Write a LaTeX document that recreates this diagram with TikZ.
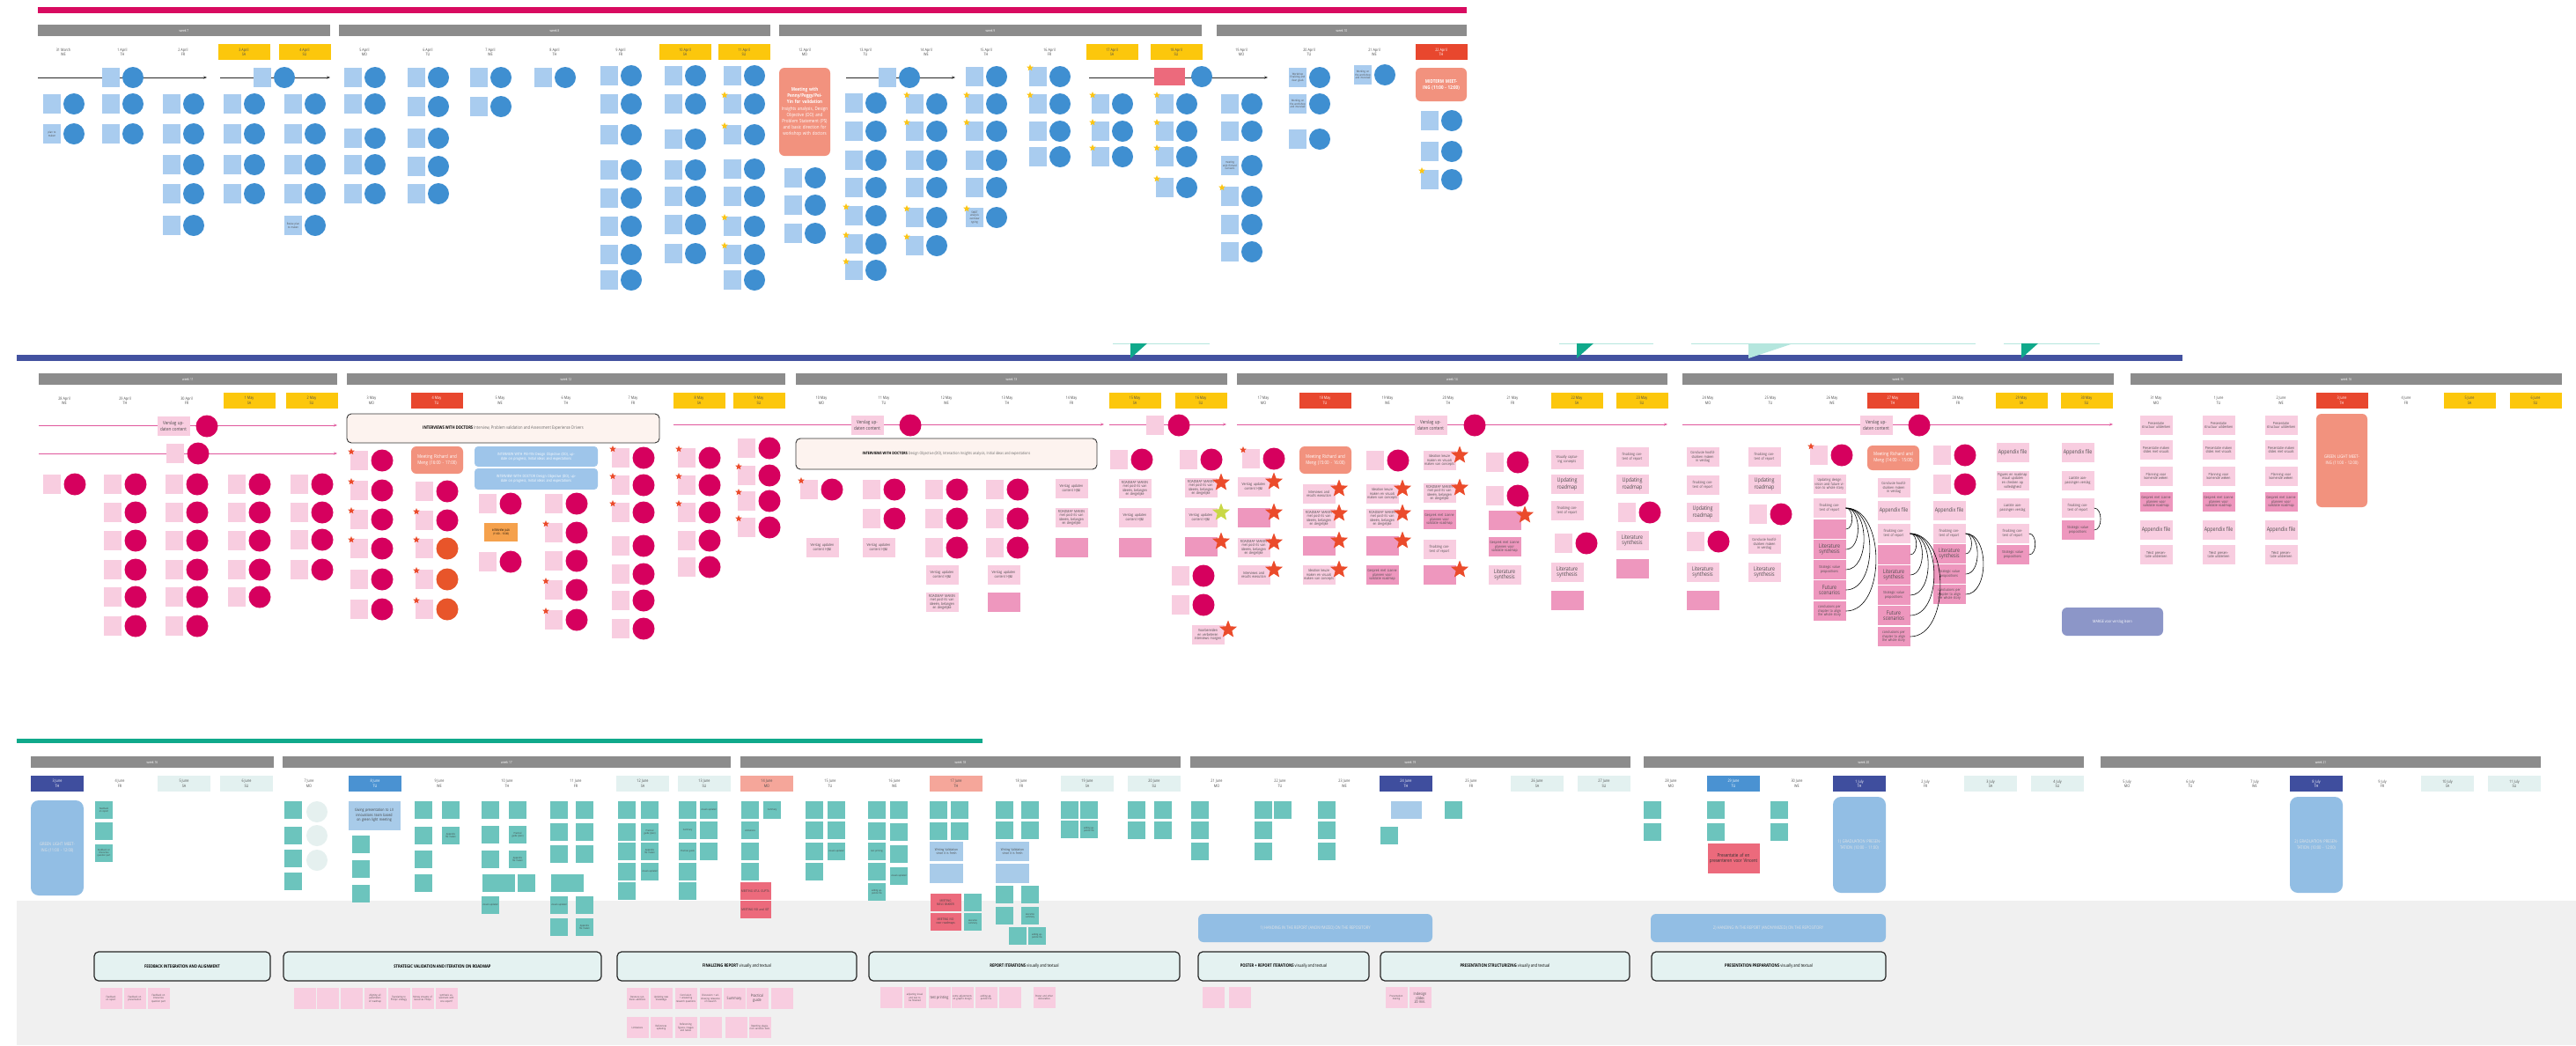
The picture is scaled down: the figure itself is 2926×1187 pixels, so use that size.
\documentclass[tikz,border=0pt]{standalone}
\usepackage{fontspec}
\setmainfont{Open Sans}[FakeStretch=0.82]
\usepackage{tikz}
\usetikzlibrary{
  arrows.meta,
  positioning,
  shapes.geometric,
  calc
}
\definecolor{barmag}   {HTML}{D80B60}
\definecolor{barblue}  {HTML}{4352A0}
\definecolor{barteal}  {HTML}{10A98B}
\definecolor{flaglite} {HTML}{B5E6DE}
\definecolor{wkgray}   {HTML}{8C8C8C}
\definecolor{wkyel}    {HTML}{FCC70C}
\definecolor{wkred}    {HTML}{E8472E}
\definecolor{daydark}  {HTML}{3F4E9E}
\definecolor{dayblue}  {HTML}{4A92D2}
\definecolor{daysal}   {HTML}{F5A69A}
\definecolor{daylite}  {HTML}{E3F1F0}
\definecolor{noteblue} {HTML}{A9CCEF}
\definecolor{dotblue}  {HTML}{3F8FD1}
\definecolor{salmon}   {HTML}{F2927E}
\definecolor{notered}  {HTML}{EC6A7C}
\definecolor{notepink} {HTML}{F8CDE0}
\definecolor{notedark} {HTML}{EE97BE}
\definecolor{dotmag}   {HTML}{D6005E}
\definecolor{dotorg}   {HTML}{E8552A}
\definecolor{starorg}  {HTML}{EB4B2B}
\definecolor{staryel}  {HTML}{FCC514}
\definecolor{starlime} {HTML}{C9D846}
\definecolor{linepink} {HTML}{E0579C}
\definecolor{boxpeach} {HTML}{FDF3EF}
\definecolor{boxblue}  {HTML}{9EC5EA}
\definecolor{boxorange}{HTML}{F5A14C}
\definecolor{marge}    {HTML}{8C96C8}
\definecolor{bandgray} {HTML}{F0F0F0}
\definecolor{noteteal} {HTML}{6CC4BD}
\definecolor{gradblue} {HTML}{92BEE4}
\definecolor{phasefill}{HTML}{E4F2F1}
\definecolor{ringlite} {HTML}{E5F0EF}
\newcommand{\bigtxt}{\fontsize{6.5}{7}\selectfont}

\begin{document}
\begin{tikzpicture}[x=1pt, y=-1pt,
  every node/.style={inner sep=0.5pt, font=\fontsize{3.2}{3.6}\selectfont},
  wkbar/.style={fill=wkgray, text=white, minimum height=13pt, inner sep=0pt,
                font=\fontsize{4}{4}\selectfont},
  day/.style={minimum width=59pt, minimum height=18pt, align=center, inner sep=0pt,
              font=\fontsize{4.6}{5.4}\selectfont},
  bnote/.style={fill=noteblue, minimum width=20pt, minimum height=22pt,
                text width=18pt, align=center, inner sep=1pt, text=black!70},
  bdot/.style={circle, fill=dotblue, minimum size=24pt, inner sep=0pt},
  pnote/.style={fill=notepink, minimum width=20pt, minimum height=22pt, inner sep=0pt},
  pbig/.style={fill=notepink, minimum width=37pt, minimum height=22pt, text width=34pt,
               align=center, inner sep=1pt, text=black!70, font=\fontsize{4.2}{4.6}\selectfont},
  pdot/.style={circle, fill=dotmag, minimum size=25pt, inner sep=0pt},
  tnote/.style={fill=noteteal, minimum width=20pt, minimum height=20pt, text width=19pt,
                align=center, inner sep=0.5pt, text=black!75, font=\fontsize{2.8}{3.1}\selectfont},
  fnote/.style={fill=notepink, minimum width=25pt, minimum height=24pt, text width=23pt,
                align=center, inner sep=1pt, text=black!70, font=\fontsize{3}{3.4}\selectfont},
  ystar/.style={star, star points=5, star point ratio=2.3, fill=staryel, minimum size=8pt, inner sep=0pt},
  bstar/.style={ystar, fill=starorg, minimum size=21pt},
  meet/.style={fill=salmon, rounded corners=6pt, text=white, align=center,
               font=\fontsize{5.5}{7}\selectfont},
  phase/.style={draw=black!85, line width=1.2pt, rounded corners=5pt, fill=phasefill,
                minimum height=33pt, font=\fontsize{5}{6}\selectfont},
  bigblue/.style={fill=gradblue, rounded corners=9pt, text=white!90!black, align=center,
                  font=\fontsize{5}{7}\selectfont},
  tline/.style={-{Stealth[length=4pt]}, black!85, line width=0.8pt},
  pline/.style={-{Stealth[length=4pt]}, linepink, line width=1pt},
  link/.style={black, line width=0.6pt},
]
\path[use as bounding box, fill=white] (0,0) rectangle (2926,1187);

% ---------------- block 1: weeks 7-10 ----------------
\fill[barmag] (43,8) rectangle (1666,15);
\foreach \a/\b/\n [count=\i] in {43/375/7, 385/875/8, 885/1365/9, 1382/1666/10}
  \node[wkbar, minimum width={(\b-\a)*1pt}] (wka\i) at ({(\a+\b)/2},34.5) {week \n};
\foreach \c/\dat/\wdy/\f/\t [count=\i] in {
  72/31 March/WE/none/black!70, 139/1 April/TH/none/black!70, 208/2 April/FR/none/black!70,
  277/3 April/SA/wkyel/black!70, 346/4 April/SU/wkyel/black!70,
  414/5 April/MO/none/black!70, 486/6 April/TU/none/black!70, 557/7 April/WE/none/black!70,
  630/8 April/TH/none/black!70, 705/9 April/FR/none/black!70,
  778/10 April/SA/wkyel/black!70, 845/11 April/SU/wkyel/black!70,
  914/12 April/MO/none/black!70, 983/13 April/TU/none/black!70, 1052/14 April/WE/none/black!70,
  1120/15 April/TH/none/black!70, 1192/16 April/FR/none/black!70,
  1263/17 April/SA/wkyel/black!70, 1336/18 April/SU/wkyel/black!70,
  1410/19 April/MO/none/black!70, 1487/20 April/TU/none/black!70, 1561/21 April/WE/none/black!70,
  1637/22 April/TH/wkred/white}
  \node[day, fill=\f, text=\t] (da\i) at (\c,59) {\dat\\\wdy};

% timelines
\coordinate (ta1) at (43,88);   \coordinate (tb1) at (235,88);
\coordinate (ta2) at (250,88);  \coordinate (tb2) at (375,88);
\coordinate (ta3) at (961,88);  \coordinate (tb3) at (1085,88);
\coordinate (ta4) at (1237,88); \coordinate (tb4) at (1440,88);
\foreach \i in {1,...,4} \draw[tline] (ta\i) -- (tb\i);

% notes and their dots
\foreach \dc/\yy/\tx [count=\i] in {
  72/118/{}, 72/152/{plan to maken},
  139/88/{}, 139/118/{}, 139/152/{},
  208/118/{}, 208/152/{}, 208/187/{}, 208/220/{}, 208/256/{},
  277/118/{}, 277/152/{}, 277/187/{}, 277/220/{},
  311/88/{},
  346/118/{}, 346/152/{}, 346/187/{}, 346/220/{}, 346/256/{Revise plan to maken},
  414/88/{}, 414/118/{}, 414/157/{}, 414/187/{}, 414/220/{},
  486/88/{}, 486/121/{}, 486/157/{}, 486/189/{}, 486/220/{},
  557/88/{}, 557/121/{}, 630/88/{},
  705/86/{}, 705/118/{}, 705/153/{}, 705/193/{}, 705/225/{}, 705/257/{}, 705/289/{}, 705/318/{},
  778/86/{}, 778/118/{}, 778/158/{}, 778/193/{}, 778/223/{}, 778/255/{}, 778/288/{},
  845/86/{}, 845/118/{}, 845/153/{}, 845/192/{}, 845/223/{}, 845/257/{}, 845/289/{}, 845/318/{},
  914/202/{}, 914/233/{}, 914/265/{},
  1021/88/{},
  983/117/{}, 983/149/{}, 983/182/{}, 983/213/{}, 983/245/{}, 983/277/{}, 983/307/{},
  1052/118/{}, 1052/149/{}, 1052/182/{}, 1052/213/{}, 1052/247/{}, 1052/279/{},
  1120/87/{}, 1120/118/{}, 1120/149/{}, 1120/182/{}, 1120/213/{}, 1120/247/{SWOT analysis overview typing},
  1192/87/{}, 1192/118/{}, 1192/149/{}, 1192/178/{},
  1263/118/{}, 1263/149/{}, 1263/178/{},
  1336/118/{}, 1336/149/{}, 1336/178/{}, 1336/213/{},
  1410/118/{}, 1410/149/{}, 1410/188/{meeting with Richard Gonsens}, 1410/223/{}, 1410/255/{}, 1410/286/{},
  1487/88/{Workshop finalizing and clear goals}, 1487/118/{Working on the workshop and interview}, 1487/158/{},
  1561/85/{Working on the workshop and interview},
  1637/137/{}, 1637/172/{}, 1637/204/{}}
{
  \node[bnote] (tn\i) at (\dc-13,\yy) {\tx};
  \node[bdot]  (td\i) at (\dc+12,\yy) {};
}
\node[bnote, fill=notered, minimum width=35pt, text width=33pt, minimum height=20pt] (tred) at (1328,87) {};
\node[bdot] (tredd) at (1365,87) {};

\foreach \dc/\yy [count=\i] in {845/118, 845/153, 845/257, 845/289, 983/245, 983/277, 983/307,
  1052/118, 1052/149, 1052/247, 1052/279, 1120/118, 1120/149, 1120/247, 1192/87, 1192/118,
  1263/118, 1263/149, 1263/178, 1336/118, 1336/149, 1336/178, 1336/213, 1410/223, 1637/204}
  \node[ystar] (ys\i) at (\dc-22,\yy-10) {};

\node[meet, minimum width=58pt, minimum height=100pt, text width=54pt] (meetA) at (914,127)
  {\bfseries Meeting with Penny/Peggy/Pei-Yin for validation\\[1pt]
   \mdseries Insights analysis, Design Objective (DO) and Problem Statement (PS) and basic direction for workshop with doctors};
\node[meet, minimum width=58pt, minimum height=38pt, text width=54pt] (midterm) at (1637,96)
  {\bfseries MIDTERM MEETING (11:00 - 12:00)};

% ---------------- block 2: weeks 11-16 ----------------
\fill[barblue] (19,403) rectangle (2479,410);
\foreach \a/\b/\f in {1264/1374/barteal, 1771/1878/barteal, 2276/2385/barteal} {
  \draw[flaglite, line width=0.8pt] (\a,390) -- (\b,390);
  \fill[\f] (\a+20,390) -- (\a+39,390) -- (\a+20,407) -- cycle;
}
\draw[flaglite, line width=0.8pt] (1921,390) -- (2244,390);
\fill[flaglite] (1986,390) -- (2037,390) -- (1986,407) -- cycle;

\foreach \a/\b/\n [count=\i] in {44/383/11, 394/892/12, 904/1394/13, 1405/1894/14, 1911/2401/15, 2420/2910/16}
  \node[wkbar, minimum width={(\b-\a)*1pt}] (wkb\i) at ({(\a+\b)/2},430.5) {week \n};
\foreach \c/\dat/\wdy/\f/\t [count=\i] in {
  73/28 April/WE/none/black!70, 142/29 April/TH/none/black!70, 212/30 April/FR/none/black!70,
  283/1 May/SA/wkyel/black!70, 354/2 May/SU/wkyel/black!70,
  422/3 May/MO/none/black!70, 496/4 May/TU/wkred/white, 568/5 May/WE/none/black!70,
  643/6 May/TH/none/black!70, 719/7 May/FR/none/black!70,
  794/8 May/SA/wkyel/black!70, 862/9 May/SU/wkyel/black!70,
  933/10 May/MO/none/black!70, 1004/11 May/TU/none/black!70, 1075/12 May/WE/none/black!70,
  1144/13 May/TH/none/black!70, 1217/14 May/FR/none/black!70,
  1289/15 May/SA/wkyel/black!70, 1364/16 May/SU/wkyel/black!70,
  1435/17 May/MO/none/black!70, 1505/18 May/TU/wkred/white, 1576/19 May/WE/none/black!70,
  1645/20 May/TH/none/black!70, 1718/21 May/FR/none/black!70,
  1791/22 May/SA/wkyel/black!70, 1865/23 May/SU/wkyel/black!70,
  1940/24 May/MO/none/black!70, 2011/25 May/TU/none/black!70, 2081/26 May/WE/none/black!70,
  2150/27 May/TH/wkred/white, 2224/28 May/FR/none/black!70,
  2296/29 May/SA/wkyel/black!70, 2370/30 May/SU/wkyel/black!70,
  2449/31 May/MO/none/black!70, 2520/1 June/TU/none/black!70, 2591/2 June/WE/none/black!70,
  2660/3 June/TH/wkred/white, 2733/4 June/FR/none/black!70,
  2805/5 June/SA/wkyel/black!70, 2880/6 June/SU/wkyel/black!70}
  \node[day, fill=\f, text=\t] (db\i) at (\c,455) {\dat\\\wdy};

% report lines
\coordinate (pa1) at (44,483);   \coordinate (pb1) at (383,483);
\coordinate (pa2) at (44,515);   \coordinate (pb2) at (383,515);
\coordinate (pa3) at (765,482);  \coordinate (pb3) at (1254,482);
\coordinate (pa4) at (1260,482); \coordinate (pb4) at (1393,482);
\coordinate (pa5) at (1405,482); \coordinate (pb5) at (1894,482);
\coordinate (pa6) at (1911,482); \coordinate (pb6) at (2400,482);
\foreach \i in {1,...,6} \draw[pline] (pa\i) -- (pb\i);

\node[pbig] (vu1) at (197,484) {\fontsize{5.5}{6}\selectfont Verslag updaten content};
\node[pdot] (vd1) at (235,484) {};
\node[pnote] (vu2) at (199,515) {};
\node[pdot] (vd2) at (225,515) {};
\node[pbig] (vu3) at (985,483) {\fontsize{5.5}{6}\selectfont Verslag updaten content};
\node[pdot] (vd3) at (1034,483) {};
\node[pnote] (vu4) at (1312,483) {};
\node[pdot] (vd4) at (1339,483) {};
\node[pbig] (vu5) at (1625,483) {\fontsize{5.5}{6}\selectfont Verslag updaten content};
\node[pdot] (vd5) at (1675,483) {};
\node[pbig] (vu6) at (2131,483) {\fontsize{5.5}{6}\selectfont Verslag updaten content};
\node[pdot] (vd6) at (2180,483) {};

% large boxes
\node[draw=black!80, line width=0.9pt, rounded corners=5pt, fill=boxpeach,
      minimum width=355pt, minimum height=33pt, font=\fontsize{5}{6}\selectfont] (intA) at (571.5,486.5)
  {\textbf{INTERVIEWS WITH DOCTORS} \textcolor{black!60}{Interview, Problem validation and Assessment Experience Drivers}};
\node[draw=black!80, line width=0.9pt, rounded corners=5pt, fill=boxpeach,
      minimum width=342pt, minimum height=35pt, font=\fontsize{4.5}{6}\selectfont] (intB) at (1075,515.5)
  {\textbf{INTERVIEWS WITH DOCTORS} \textcolor{black!60}{Design Objective (DO), Interaction Insights analysis, Initial ideas and expectations}};
\node[meet, minimum width=59pt, minimum height=31pt, text width=55pt] (meetB) at (496.5,522.5)
  {Meeting Richard and Meng (16:00 - 17:00)};
\node[meet, minimum width=59pt, minimum height=31pt, text width=55pt] (meetC) at (1505.5,522.5)
  {Meeting Richard and Meng (15:00 - 16:00)};
\node[meet, minimum width=59pt, minimum height=28pt, text width=55pt] (meetD) at (2150.5,520)
  {Meeting Richard and Meng (14:00 - 15:00)};
\node[fill=boxblue, rounded corners=4pt, minimum width=140pt, minimum height=23pt, text width=136pt,
      align=center, text=white, font=\fontsize{4.3}{5.2}\selectfont] (peiyin) at (609,518.5)
  {INTERVIEW WITH PEI-YIN Design Objective (DO), update on progress, Initial ideas and expectations};
\node[fill=boxblue, rounded corners=4pt, minimum width=140pt, minimum height=24pt, text width=136pt,
      align=center, text=white, font=\fontsize{4.3}{5.2}\selectfont] (doctor) at (609,544)
  {INTERVIEW WITH DOCTOR Design Objective (DO), update on progress, Initial ideas and expectations};
\node[fill=boxorange, minimum width=38pt, minimum height=21pt, text width=36pt, align=center,
      font=\fontsize{3.2}{3.8}\selectfont] (jack) at (569,604.5) {INTERVIEW JACK (11:00 - 13:00)};
\node[fill=marge, rounded corners=6pt, minimum width=115pt, minimum height=32pt, text=white,
      font=\fontsize{4.5}{5}\selectfont] (marge) at (2399.5,706) {MARGE voor verslag lezen};
\node[meet, minimum width=58pt, minimum height=106pt, text width=54pt, font=\fontsize{5}{7}\selectfont]
  (greenA) at (2660,523) {GREEN LIGHT MEETING (11:00 - 12:00)};

% small notes with dots
\foreach \dc/\yy/\k [count=\i] in {
  73/550/dotmag,
  142/550/dotmag, 142/582/dotmag, 142/614/dotmag, 142/647/dotmag, 142/678/dotmag, 142/711/dotmag,
  212/550/dotmag, 212/582/dotmag, 212/614/dotmag, 212/647/dotmag, 212/678/dotmag, 212/711/dotmag,
  283/550/dotmag, 283/582/dotmag, 283/614/dotmag, 283/647/dotmag, 283/678/dotmag,
  354/550/dotmag, 354/582/dotmag, 354/613/dotmag, 354/647/dotmag,
  422/523/dotmag, 422/557/dotmag, 422/590/dotmag, 422/623/dotmag, 422/658/dotmag, 422/692/dotmag,
  496/558/dotmag, 496/591/dotmag, 496/623/dotorg, 496/658/dotorg, 496/692/dotorg,
  568/572/dotmag, 568/638/dotmag,
  643/572/dotmag, 643/605/dotmag, 643/637/dotmag, 643/670/dotmag, 643/704/dotmag,
  719/520/dotmag, 719/551/dotmag, 719/582/dotmag, 719/620/dotmag, 719/652/dotmag, 719/682/dotmag, 719/714/dotmag,
  794/520/dotmag, 794/551/dotmag, 794/582/dotmag, 794/614/dotmag, 794/644/dotmag,
  862/509/dotmag, 862/540/dotmag, 862/569/dotmag, 862/599/dotmag,
  933/556/dotmag, 1004/556/dotmag, 1004/589/dotmag,
  1075/556/dotmag, 1075/589/dotmag, 1075/622/dotmag,
  1144/556/dotmag, 1144/589/dotmag, 1144/622/dotmag,
  1285/522/dotmag, 1364/522/dotmag, 1355/654/dotmag, 1355/687/dotmag,
  1435/521/dotmag, 1576/523/dotmag, 1712/525/dotmag, 1712/563/dotmag,
  1790/617/dotmag, 1862/582/dotmag, 1940/615/dotmag, 2011/584/dotmag,
  2080/517/dotmag, 2220/517/dotmag, 2220/550/dotmag}
{
  \node[pnote] (mn\i) at (\dc-14,\yy) {};
  \node[pdot, fill=\k] (md\i) at (\dc+12,\yy) {};
}
\foreach \dc/\yy [count=\i] in {422/523, 422/557, 422/590, 422/623, 496/591, 496/623, 496/658, 496/692,
  643/605, 643/670, 643/704, 719/520, 719/551, 719/582, 794/520, 794/551, 794/582,
  862/540, 862/569, 862/599, 933/556, 1435/521, 2080/517}
  \node[ystar, fill=starorg] (os\i) at (\dc-23,\yy-10) {};

% larger notes
\foreach \xx/\yy/\f/\tx [count=\i] in {
  934/622/notepink/{Verslag updaten content HJ\&I}, 998/622/notepink/{Verslag updaten content HJ\&I},
  1070/653/notepink/{Verslag updaten content HJ\&I}, 1070/684/notepink/{ROADMAP MAKEN met post-its van ideeën, belangen en dergelijke},
  1140/653/notepink/{Verslag updaten content HJ\&I}, 1140/684/notedark/{},
  1217/555/notepink/{Verslag updaten content HJ\&I}, 1217/588/notepink/{ROADMAP MAKEN met post-its van ideeën, belangen en dergelijke}, 1217/622/notedark/{},
  1289/555/notepink/{ROADMAP MAKEN met post-its van ideeën, belangen en dergelijke}, 1289/588/notepink/{Verslag updaten content HJ\&I}, 1289/622/notedark/{},
  1364/554/notepink/{ROADMAP MAKEN met post-its van ideeën, belangen en dergelijke}, 1364/588/notepink/{Verslag updaten content HJ\&I},
  1364/621/notedark/{}, 1372/721/notepink/{Voorbereiden en verbeteren interviews morgen},
  1424/553/notepink/{Verslag updaten content HJ\&I}, 1424/588/notedark/{},
  1424/622/notepink/{ROADMAP MAKEN met post-its van ideeën, belangen en dergelijke}, 1424/653/notepink/{Interviews and results execution},
  1498/561/notepink/{Interviews and results execution}, 1498/589/notepink/{ROADMAP MAKEN met post-its van ideeën, belangen en dergelijke},
  1498/620/notedark/{}, 1498/653/notepink/{Ideation keuze maken en visuals maken van concepts},
  1570/561/notepink/{Ideation keuze maken en visuals maken van concepts}, 1570/589/notepink/{ROADMAP MAKEN met post-its van ideeën, belangen en dergelijke},
  1570/620/notedark/{}, 1570/653/notedark/{Gesprek met Lianne plannen voor validatie roadmap},
  1635/523/notepink/{Ideation keuze maken en visuals maken van concepts}, 1635/560/notepink/{ROADMAP MAKEN met post-its van ideeën, belangen en dergelijke},
  1635/590/notedark/{Gesprek met Lianne plannen voor validatie roadmap}, 1635/624/notepink/{finalizing content of report}, 1635/653/notedark/{},
  1709/591/notedark/{}, 1709/621/notedark/{Gesprek met Lianne plannen voor validatie roadmap}, 1709/653/notepink/{\bigtxt Literature synthesis},
  1780/522/notepink/{Visually capturing concepts}, 1780/550/notepink/{\bigtxt Updating roadmap},
  1780/580/notepink/{finalizing content of report}, 1780/650/notepink/{\bigtxt Literature synthesis}, 1780/682/notedark/{},
  1854/519/notepink/{finalizing content of report}, 1854/550/notepink/{\bigtxt Updating roadmap},
  1854/614/notepink/{\bigtxt Literature synthesis}, 1854/646/notedark/{},
  1934/519/notepink/{Conclusie hoofdstukken maken in verslag}, 1934/551/notepink/{finalizing content of report},
  1934/582/notepink/{\bigtxt Updating roadmap}, 1934/650/notepink/{\bigtxt Literature synthesis}, 1934/682/notedark/{},
  2004/519/notepink/{finalizing content of report}, 2004/550/notepink/{\bigtxt Updating roadmap},
  2004/618/notepink/{Conclusie hoofdstukken maken in verslag}, 2004/650/notepink/{\bigtxt Literature synthesis},
  2078/550/notepink/{Updating design vision and future vision to whole story},
  2151/554/notepink/{Conclusie hoofdstukken maken in verslag}, 2151/580/notepink/{\bigtxt Appendix file},
  2214/580/notepink/{\bigtxt Appendix file},
  2286/514/notepink/{\bigtxt Appendix file}, 2286/546/notepink/{Figures en roadmap visual updaten en checken op volledigheid},
  2286/577/notepink/{Laatste aanpassingen verslag},
  2360/514/notepink/{\bigtxt Appendix file}, 2360/546/notepink/{Laatste aanpassingen verslag}}
  \node[pbig, fill=\f] (mb\i) at (\xx,\yy) {\tx};

\foreach \xx in {2449,2520,2591} {
  \node[pbig] (ps\xx) at (\xx,483) {Presentatie structuur uitdenken};
  \node[pbig] (pm\xx) at (\xx,511) {Presentatie maken slides met visuals};
  \node[pbig] (pp\xx) at (\xx,541) {Planning voor komende weken};
  \node[pbig, fill=notedark] (pg\xx) at (\xx,570) {Gesprek met Lianne plannen voor validatie roadmap};
  \node[pbig] (pa\xx) at (\xx,602) {\bigtxt Appendix file};
  \node[pbig] (pt\xx) at (\xx,630) {Tekst presentatie uitdenken};
}

% stacks linked to the report
\node[pbig] (fin26) at (2078,577) {finalizing content of report};
\node[pbig, fill=notedark] (k26a) at (2078,601) {};
\node[pbig, fill=notedark] (k26b) at (2078,624) {\bigtxt Literature synthesis};
\node[pbig, fill=notedark] (k26c) at (2078,647) {Strategic value propositions};
\node[pbig, fill=notedark] (k26d) at (2078,670) {\bigtxt Future scenarios};
\node[pbig, fill=notedark] (k26e) at (2078,694) {conclusions per chapter to align the whole story};
\node[pbig] (fin27) at (2151,606) {finalizing content of report};
\node[pbig, fill=notedark] (k27a) at (2151,630) {};
\node[pbig, fill=notedark] (k27b) at (2151,653) {\bigtxt Literature synthesis};
\node[pbig, fill=notedark] (k27c) at (2151,676) {Strategic value propositions};
\node[pbig, fill=notedark] (k27d) at (2151,699) {\bigtxt Future scenarios};
\node[pbig, fill=notedark] (k27e) at (2151,723) {conclusions per chapter to align the whole story};
\node[pbig] (fin28) at (2214,606) {finalizing content of report};
\node[pbig, fill=notedark] (k28a) at (2214,629) {\bigtxt Literature synthesis};
\node[pbig, fill=notedark] (k28b) at (2214,652) {Strategic value propositions};
\node[pbig, fill=notedark] (k28c) at (2214,675) {conclusions per chapter to align the whole story};
\node[pbig] (fin29) at (2286,606) {finalizing content of report};
\node[pbig, fill=notedark] (k29a) at (2286,630) {Strategic value propositions};
\node[pbig] (fin30) at (2360,577) {finalizing content of report};
\node[pbig, fill=notedark] (k30a) at (2360,602) {Strategic value propositions};
\foreach \n in {a,b,c,d,e} {
  \draw[link] (fin26.east) to[out=0,in=0] (k26\n.east);
  \draw[link] (fin27.east) to[out=0,in=0] (k27\n.east);
}
\foreach \n in {a,b,c} \draw[link] (fin28.east) to[out=0,in=0] (k28\n.east);
\draw[link] (fin29.east) to[out=0,in=0] (k29a.east);
\draw[link] (fin30.east) to[out=0,in=0] (k30a.east);

% priority stars
\foreach \xx/\yy [count=\i] in {1364/554, 1364/621, 1372/721, 1424/553, 1424/588, 1424/622, 1424/653,
  1498/561, 1498/589, 1498/620, 1498/653, 1570/561, 1570/589, 1570/620,
  1635/523, 1635/560, 1635/653, 1709/591}
  \node[bstar] (bs\i) at (\xx+23,\yy-6) {};
\node[bstar, fill=starlime] (limestar) at (1387,582) {};

% ---------------- block 3: weeks 16-21 ----------------
\fill[bandgray] (19,1023) rectangle (2926,1187);
\fill[barteal] (19,839) rectangle (1116,844);
\foreach \a/\b/\n [count=\i] in {35/311/16, 321/830/17, 841/1341/18, 1352/1852/19, 1867/2367/20, 2386/2886/21}
  \node[wkbar, minimum width={(\b-\a)*1pt}] (wkc\i) at ({(\a+\b)/2},865.5) {week \n};
\foreach \c/\dat/\wdy/\f/\t [count=\i] in {
  65/3 June/TH/daydark/white, 136/4 June/FR/none/black!70,
  209/5 June/SA/daylite/black!70, 280/6 June/SU/daylite/black!70,
  351/7 June/MO/none/black!70, 426/8 June/TU/dayblue/white, 499/9 June/WE/none/black!70,
  576/10 June/TH/none/black!70, 654/11 June/FR/none/black!70,
  730/12 June/SA/daylite/black!70, 800/13 June/SU/daylite/black!70,
  871/14 June/MO/daysal/black!70, 943/15 June/TU/none/black!70, 1016/16 June/WE/none/black!70,
  1086/17 June/TH/daysal/black!70, 1160/18 June/FR/none/black!70,
  1235/19 June/SA/daylite/black!70, 1311/20 June/SU/daylite/black!70,
  1382/21 June/MO/none/black!70, 1454/22 June/TU/none/black!70, 1527/23 June/WE/none/black!70,
  1597/24 June/TH/daydark/white, 1671/25 June/FR/none/black!70,
  1746/26 June/SA/daylite/black!70, 1822/27 June/SU/daylite/black!70,
  1898/28 June/MO/none/black!70, 1969/29 June/TU/dayblue/white, 2041/30 June/WE/none/black!70,
  2112/1 July/TH/daydark/white, 2187/2 July/FR/none/black!70,
  2261/3 July/SA/daylite/black!70, 2337/4 July/SU/daylite/black!70,
  2416/5 July/MO/none/black!70, 2488/6 July/TU/none/black!70, 2561/7 July/WE/none/black!70,
  2631/8 July/TH/daydark/white, 2706/9 July/FR/none/black!70,
  2780/10 July/SA/daylite/black!70, 2856/11 July/SU/daylite/black!70}
  \node[day, minimum width=60pt, fill=\f, text=\t] (dc\i) at (\c,890) {\dat\\\wdy};

\node[bigblue, minimum width=60pt, minimum height=108pt, text width=56pt] (greenB) at (65,963)
  {GREEN LIGHT MEETING (11:00 - 12:00)};
\node[bigblue, minimum width=60pt, minimum height=109pt, text width=56pt] (gradA) at (2112,959.5)
  {1) GRADUATION PRESENTATION (10:00 - 11:00)};
\node[bigblue, minimum width=60pt, minimum height=109pt, text width=56pt] (gradB) at (2631,959.5)
  {2) GRADUATION PRESENTATION (10:00 - 12:00)};
\node[bigblue, rounded corners=6pt, minimum width=266pt, minimum height=32pt] (handA) at (1494,1054)
  {1) HANDING IN THE REPORT (ANONYMIZED) ON THE REPOSITORY};
\node[bigblue, rounded corners=6pt, minimum width=267pt, minimum height=32pt] (handB) at (2008.5,1054)
  {2) HANDING IN THE REPORT (ANONYMIZED) ON THE REPOSITORY};

% phases
\node[phase, minimum width=200pt] (ph1) at (207,1097.5) {\textbf{FEEDBACK INTEGRATION AND ALIGNMENT}};
\node[phase, minimum width=361pt] (ph2) at (502.5,1097.5) {\textbf{STRATEGIC VALIDATION AND ITERATION ON ROADMAP}};
\node[phase, minimum width=272pt] (ph3) at (837,1097.5) {\textbf{FINALIZING REPORT} visually and textual};
\node[phase, minimum width=353pt] (ph4) at (1163.5,1097.5) {\textbf{REPORT ITERATIONS} visually and textual};
\node[phase, minimum width=194pt] (ph5) at (1458,1097.5) {\textbf{POSTER + REPORT ITERATIONS} visually and textual};
\node[phase, minimum width=283pt] (ph6) at (1709.5,1097.5) {\textbf{PRESENTATION STRUCTURIZING} visually and textual};
\node[phase, minimum width=266pt] (ph7) at (2009,1097.5) {\textbf{PRESENTATION PREPARATIONS} visually and textual};

\foreach \xx/\yy/\tx [count=\i] in {
  126/1134/{Feedback on report}, 153/1134/{Feedback on presentation}, 180/1134/{Feedback on interactive question part},
  346/1134/{}, 372/1134/{}, 399/1134/{}, 426/1134/{Aligning all parameters of roadmap},
  453/1134/{Translating to Philips' strategy}, 480/1134/{Money streams of resources Philips},
  507/1134/{synthesis assessment with one expert?},
  724/1134/{literature synthesis additions}, 751/1134/{Updating new knowledge},
  779/1134/{Conclusion + answering research questions}, 807/1134/{Discussion + addressing relevance of research},
  834/1134/{\fontsize{4.5}{5}\selectfont Summary}, 860/1134/{\fontsize{4.5}{5}\selectfont Practical guide}, 888/1134/{},
  724/1167/{Limitations}, 751/1167/{References updating}, 779/1167/{Referencing figures, images and tables},
  807/1167/{}, 836/1167/{}, 863/1167/{Rewriting plagiarism sensitive texts},
  1012/1133/{}, 1039/1133/{adjusting visual and text to be finalized}, 1067/1133/{\fontsize{4.5}{5}\selectfont test printing},
  1093/1133/{some adjustments on graphic design}, 1120/1133/{adding appendix file}, 1147/1133/{},
  1186/1133/{Poster and other deliverables},
  1378/1133/{}, 1408/1133/{},
  1586/1133/{Presentation making}, 1613/1133/{\fontsize{4.5}{5}\selectfont Indesign slides 20 min.}}
  \node[fnote] (fn\i) at (\xx,\yy) {\tx};

% teal task notes
\foreach \xx/\yy/\tx [count=\i] in {
  118/920/{Feedback on report}, 118/944/{}, 118/969/{Feedback on interactive question part},
  333/920/{}, 333/949/{}, 333/975/{}, 333/1001/{},
  410/959/{}, 410/987/{}, 410/1015/{},
  481/920/{}, 512/920/{}, 481/949/{}, 512/949/{Appendix file maken}, 481/976/{}, 481/1003/{},
  557/920/{}, 588/920/{}, 557/948/{}, 588/948/{Practical guide (plan)}, 557/976/{}, 588/976/{Appendix file maken},
  598/1003/{}, 557/1028/{visuals updated},
  635/920/{}, 664/920/{}, 635/945/{}, 664/945/{}, 635/970/{}, 664/970/{},
  635/1028/{visuals updated}, 664/1028/{}, 635/1053/{}, 664/1053/{Appendix file maken},
  712/920/{}, 738/920/{}, 712/945/{}, 738/945/{Practical guide (plan)}, 712/967/{}, 738/967/{Appendix file maken},
  712/990/{}, 738/990/{visuals updated}, 712/1012/{},
  781/920/{}, 805/920/{visuals updated}, 781/943/{Summary}, 805/943/{}, 781/967/{Practical guide},
  805/967/{}, 781/990/{}, 781/1012/{},
  852/920/{}, 877/920/{Summary}, 852/943/{Limitations}, 852/967/{}, 852/990/{},
  925/920/{}, 950/920/{}, 925/943/{}, 950/943/{}, 925/967/{}, 950/967/{visuals updated}, 925/990/{},
  996/920/{}, 1021/920/{}, 996/944/{}, 1021/945/{}, 996/967/{test printing}, 1021/970/{},
  996/990/{}, 1021/995/{visuals updated}, 996/1013/{adding appendix file},
  1066/920/{}, 1090/920/{}, 1066/944/{}, 1090/944/{}, 1105/1025/{}, 1105/1047/{executive summary},
  1141/920/{}, 1170/920/{}, 1141/943/{}, 1170/943/{}, 1141/1016/{}, 1170/1016/{},
  1141/1040/{}, 1170/1040/{executive summary}, 1156/1063/{}, 1178/1063/{adding appendix file},
  1215/920/{}, 1237/920/{}, 1215/942/{}, 1237/942/{adding appendix file},
  1291/920/{}, 1321/920/{}, 1291/943/{}, 1321/943/{},
  1363/920/{}, 1363/943/{}, 1363/967/{},
  1435/920/{}, 1457/920/{}, 1435/943/{}, 1435/967/{},
  1507/920/{}, 1507/943/{}, 1507/967/{},
  1578/949/{}, 1651/920/{},
  1877/920/{}, 1877/945/{}, 1949/920/{}, 1949/945/{}, 2021/920/{}, 2021/945/{}}
  \node[tnote] (bt\i) at (\xx,\yy) {\tx};
\node[tnote, minimum width=37pt, text width=36pt] (btw1) at (566,1003) {};
\node[tnote, minimum width=37pt, text width=36pt] (btw2) at (644,1003) {};

\foreach \yy [count=\i] in {922,949,977}
  \node[circle, fill=ringlite, minimum size=24pt, inner sep=0pt] (ring\i) at (360,\yy) {};
\node[fill=gradblue!80!white, minimum width=59pt, minimum height=33pt, text width=56pt, align=center,
      text=black!75, font=\fontsize{4.4}{5.2}\selectfont] (lii) at (425,926)
  {Giving presentation to LII innovations team based on green light meeting};
\foreach \xx/\yy/\tx [count=\i] in {1075/967/{Writing Validation since it is fresh}, 1075/992/{},
  1150/967/{Writing Validation since it is fresh}, 1150/992/{}}
  \node[fill=gradblue!80!white, minimum width=38pt, minimum height=22pt, text width=36pt, align=center,
        text=black!70, font=\fontsize{3.8}{4.4}\selectfont] (val\i) at (\xx,\yy) {\tx};
\node[fill=gradblue!80!white, minimum width=35pt, minimum height=20pt] (hand24) at (1597,920) {};
\foreach \xx/\yy/\tx [count=\i] in {858/1012/{MEETING ATUL GUPTA}, 858/1033/{MEETING IVO and IGT},
  1074/1025/{MEETING NIELS BAKKER}, 1074/1047/{MEETING IVO voor roadmaps}}
  \node[fill=notered, minimum width=35pt, minimum height=20pt, text width=33pt, align=center,
        text=black!75, font=\fontsize{3.6}{4.2}\selectfont] (mt\i) at (\xx,\yy) {\tx};
\node[fill=notered, minimum width=59pt, minimum height=34pt, text width=56pt, align=center,
      text=black!80, font=\fontsize{5.5}{6.5}\selectfont] (vincent) at (1969,975)
  {Presentatie af en presenteren voor Vincent};
\end{tikzpicture}
\end{document}
